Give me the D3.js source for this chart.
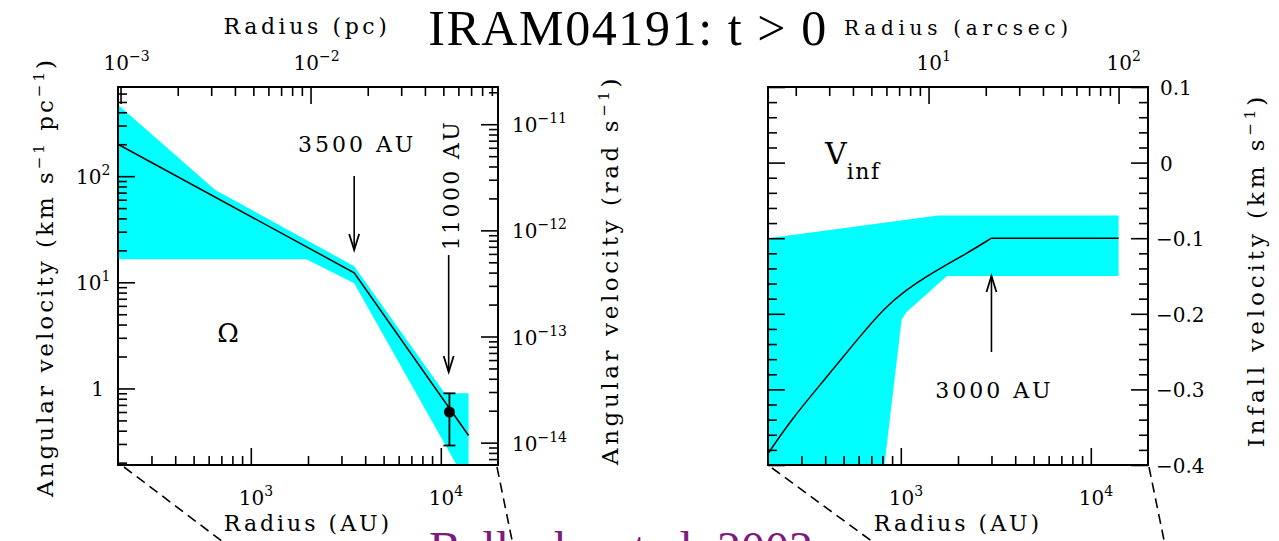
<!DOCTYPE html>
<html>
<head>
<meta charset="utf-8">
<script src="https://cdn.jsdelivr.net/npm/d3@7"></script>
<style>
body { margin: 0; background: #fff; }
svg text { font-family: "DejaVu Serif", serif; fill: #000; }
</style>
</head>
<body>
<script>
// values
var radiusDomain = [200, 20000];     // AU, both panels
var omegaDomain = [0.19, 692];       // km s-1 pc-1
var vinfDomain = [-0.4, 0.1];        // km s-1

// angular velocity model and its allowed range
var omegaModel = [[200, 200], [3500, 12.3], [14000, 0.36]];
var omegaBandUpper = [[200, 470], [650, 74], [3500, 14.2], [10500, 0.9], [14000, 0.9]];
var omegaBandLower = [[200, 16.5], [1960, 16.5], [3500, 9.8], [14000, 0.12]];

// measured point with error bar
var obsRadius = [11100];
var obsOmega = [0.6];
var obsLow = [0.29];
var obsHigh = [0.9];

// infall velocity model: curved inside 3000 AU, flat outside
var vinfCurve = [[200, -0.385], [265, -0.34], [394, -0.288], [585, -0.235], [828, -0.191],
  [1060, -0.169], [1358, -0.151], [1656, -0.138], [2227, -0.12], [3000, -0.1]];
var vinfFlat = [[3000, -0.1], [14000, -0.1]];
var vinfBandUpper = [[200, -0.1], [1570, -0.07], [14000, -0.07]];
var vinfBandLower = [[200, -0.4], [820, -0.4], [1010, -0.208], [1070, -0.198], [1750, -0.15], [14000, -0.15]];

// tick labels
var auMajor = [1000, 10000];
var auExp = ["3", "4"];
var pcMajor = [0.001, 0.01];
var pcExp = ["\u22123", "\u22122"];
var arcMajor = [10, 100];
var arcExp = ["1", "2"];
var omegaMajor = [1, 10, 100];
var omegaLabels = [["1", ""], ["10", "1"], ["10", "2"]];
var radMajor = [1e-14, 1e-13, 1e-12, 1e-11];
var radExp = ["\u221214", "\u221213", "\u221212", "\u221211"];
var vinfMajor = [-0.4, -0.3, -0.2, -0.1, 0, 0.1];
var vinfLabels = ["\u22120.4", "\u22120.3", "\u22120.2", "\u22120.1", "0", "0.1"];

// unit conversions
var auPerPc = 206265;
var distPc = 140;
var kmPcToRad = 3.0857e13;

var W = 1279, H = 541;
var pw = 380, ph = 378;
var leftX = 118, rightX = 768, topY = 87;

var svg = d3.select("body").append("svg")
    .attr("width", W)
    .attr("height", H);

// scales
var x = d3.scaleLog().domain(radiusDomain).range([0, pw]);
var xPc = d3.scaleLog().domain(radiusDomain.map(function(d) { return d / auPerPc; })).range([0, pw]);
var xArc = d3.scaleLog().domain(radiusDomain.map(function(d) { return d / distPc; })).range([0, pw]);
var yOmega = d3.scaleLog().domain(omegaDomain).range([ph, 0]);
var yRad = d3.scaleLog().domain(omegaDomain.map(function(d) { return d / kmPcToRad; })).range([ph, 0]);
var yVinf = d3.scaleLinear().domain(vinfDomain).range([ph, 0]);

// minor ticks 2..9 x 10^n inside a log scale domain
function logMinors(scale) {
  var d = scale.domain();
  var lo = Math.min(d[0], d[1]), hi = Math.max(d[0], d[1]);
  var out = [];
  for (var e = Math.floor(Math.log10(lo)); e <= Math.ceil(Math.log10(hi)); e++) {
    for (var k = 2; k <= 9; k++) {
      var v = k * Math.pow(10, e);
      if (v > lo * 1.0001 && v < hi * 0.9999) out.push(v);
    }
  }
  return out;
}

function drawTicks(g, axisFn, scale, values, size, tx, ty) {
  g.append("g")
    .attr("transform", "translate(" + tx + "," + ty + ")")
    .call(axisFn(scale).tickValues(values).tickSize(size).tickFormat(""))
    .call(function(s) { s.select(".domain").remove(); })
    .selectAll("line")
    .attr("stroke", "#000")
    .attr("stroke-width", 1.6);
}

// add "10" with a raised exponent
function powerLabel(sel, base, exp) {
  sel.append("tspan").text(base);
  if (exp) {
    sel.append("tspan")
      .attr("dy", -9)
      .attr("font-size", "14px")
      .text(exp);
  }
}

function arrowDown(g, px, y0, y1) {
  g.append("line").attr("x1", px).attr("x2", px).attr("y1", y0).attr("y2", y1)
    .attr("stroke", "#000").attr("stroke-width", 1.6);
  g.append("path")
    .attr("d", "M" + (px - 5) + "," + (y1 - 16) + " L" + px + "," + y1 + " L" + (px + 5) + "," + (y1 - 16))
    .attr("fill", "none").attr("stroke", "#000").attr("stroke-width", 1.8);
}

function arrowUp(g, px, y0, y1) {
  g.append("line").attr("x1", px).attr("x2", px).attr("y1", y0).attr("y2", y1)
    .attr("stroke", "#000").attr("stroke-width", 1.6);
  g.append("path")
    .attr("d", "M" + (px - 5) + "," + (y1 + 16) + " L" + px + "," + y1 + " L" + (px + 5) + "," + (y1 + 16))
    .attr("fill", "none").attr("stroke", "#000").attr("stroke-width", 1.8);
}

// rotated axis title with "s^-1" style exponents
function sideTitle(g, tx, ty, size, spacing, parts) {
  var t = g.append("text")
    .attr("transform", "translate(" + tx + "," + ty + ") rotate(-90)")
    .attr("text-anchor", "middle").attr("font-size", size + "px").attr("letter-spacing", spacing + "px");
  parts.forEach(function(p) {
    if (p.sup) {
      t.append("tspan").attr("dy", -9).attr("font-size", "15px").text(p.sup);
    } else {
      t.append("tspan").attr("dy", p.down ? 9 : 0).text(p.text);
    }
  });
}

var defs = svg.append("defs");
defs.append("clipPath").attr("id", "plotClip")
  .append("rect").attr("width", pw).attr("height", ph);

// ---------------- left panel: angular velocity ----------------
var gL = svg.append("g").attr("transform", "translate(" + leftX + "," + topY + ")");

var omegaLine = d3.line()
  .x(function(d) { return x(d[0]); })
  .y(function(d) { return yOmega(d[1]); });

gL.append("path")
  .attr("clip-path", "url(#plotClip)")
  .attr("d", omegaLine(omegaBandUpper.concat(omegaBandLower.slice().reverse())) + "Z")
  .attr("fill", "#00ffff");

gL.append("path")
  .attr("d", omegaLine(omegaModel))
  .attr("fill", "none")
  .attr("stroke", "#000")
  .attr("stroke-width", 1.5);

// error bar and point
obsRadius.forEach(function(r, i) {
  var px = x(r);
  gL.append("line").attr("x1", px).attr("x2", px)
    .attr("y1", yOmega(obsLow[i])).attr("y2", yOmega(obsHigh[i]))
    .attr("stroke", "#000").attr("stroke-width", 1.8);
  [obsLow[i], obsHigh[i]].forEach(function(v) {
    gL.append("line").attr("x1", px - 6).attr("x2", px + 6)
      .attr("y1", yOmega(v)).attr("y2", yOmega(v))
      .attr("stroke", "#000").attr("stroke-width", 1.8);
  });
  gL.append("circle").attr("cx", px).attr("cy", yOmega(obsOmega[i])).attr("r", 5.5).attr("fill", "#000");
});

// ticks
drawTicks(gL, d3.axisTop, x, logMinors(x), 9, 0, ph);
drawTicks(gL, d3.axisTop, x, auMajor, 17, 0, ph);
drawTicks(gL, d3.axisBottom, xPc, logMinors(xPc), 9, 0, 0);
drawTicks(gL, d3.axisBottom, xPc, pcMajor, 17, 0, 0);
drawTicks(gL, d3.axisRight, yOmega, logMinors(yOmega), 9, 0, 0);
drawTicks(gL, d3.axisRight, yOmega, omegaMajor, 17, 0, 0);
drawTicks(gL, d3.axisLeft, yRad, logMinors(yRad), 9, pw, 0);
drawTicks(gL, d3.axisLeft, yRad, radMajor, 17, pw, 0);

gL.append("rect").attr("width", pw).attr("height", ph)
  .attr("fill", "none").attr("stroke", "#000").attr("stroke-width", 2);

// annotations
arrowDown(gL, x(3500), 89, 163);
gL.append("text").attr("x", x(3500) + 3).attr("y", 65)
  .attr("text-anchor", "middle").attr("font-size", "22px").attr("letter-spacing", "3px")
  .text("3500 AU");
arrowDown(gL, x(11000), 168, 285);
gL.append("text")
  .attr("transform", "translate(" + (x(11000) + 10) + ",98) rotate(-90)")
  .attr("text-anchor", "middle").attr("font-size", "22px").attr("letter-spacing", "2.4px")
  .text("11000 AU");
gL.append("text").attr("x", 110).attr("y", 255)
  .attr("text-anchor", "middle").attr("font-size", "26px")
  .text("\u03A9");

// tick labels
auMajor.forEach(function(v, i) {
  powerLabel(gL.append("text").attr("x", x(v) - 12).attr("y", ph + 40).attr("font-size", "20px"), "10", auExp[i]);
});
pcMajor.forEach(function(v, i) {
  powerLabel(gL.append("text").attr("x", xPc(v) - 17).attr("y", -17).attr("font-size", "20px"), "10", pcExp[i]);
});
omegaMajor.forEach(function(v, i) {
  powerLabel(gL.append("text").attr("x", -30).attr("y", yOmega(v) + 8).attr("font-size", "20px")
    .attr("text-anchor", omegaLabels[i][1] ? "start" : "end")
    .attr("dx", omegaLabels[i][1] ? -12 : 16), omegaLabels[i][0], omegaLabels[i][1]);
});
radMajor.forEach(function(v, i) {
  powerLabel(gL.append("text").attr("x", pw + 14).attr("y", yRad(v) + 8).attr("font-size", "20px"), "10", radExp[i]);
});

// axis titles
gL.append("text").attr("x", pw / 2).attr("y", ph + 66)
  .attr("text-anchor", "middle").attr("font-size", "22px").attr("letter-spacing", "3px")
  .text("Radius (AU)");
gL.append("text").attr("x", pw / 2 - 1).attr("y", -53)
  .attr("text-anchor", "middle").attr("font-size", "22px").attr("letter-spacing", "3.6px")
  .text("Radius (pc)");

sideTitle(gL, -65, 190, 23, 3.0, [
  {text: "Angular velocity (km s"}, {sup: "\u22121"}, {text: " pc", down: true}, {sup: "\u22121"}, {text: ")", down: true}
]);
sideTitle(gL, pw + 120, 183, 23, 3.6, [
  {text: "Angular velocity (rad s"}, {sup: "\u22121"}, {text: ")", down: true}
]);

// ---------------- right panel: infall velocity ----------------
var gR = svg.append("g").attr("transform", "translate(" + rightX + "," + topY + ")");

var vinfLine = d3.line()
  .x(function(d) { return x(d[0]); })
  .y(function(d) { return yVinf(d[1]); });

gR.append("path")
  .attr("clip-path", "url(#plotClip)")
  .attr("d", vinfLine(vinfBandUpper.concat(vinfBandLower.slice().reverse())) + "Z")
  .attr("fill", "#00ffff");

gR.append("path")
  .attr("d", vinfLine(vinfFlat))
  .attr("fill", "none")
  .attr("stroke", "#000")
  .attr("stroke-width", 1.5);

gR.append("path")
  .attr("d", d3.line()
    .x(function(d) { return x(d[0]); })
    .y(function(d) { return yVinf(d[1]); })
    .curve(d3.curveBasis)(vinfCurve))
  .attr("fill", "none")
  .attr("stroke", "#000")
  .attr("stroke-width", 1.5);

var vMinor = yVinf.ticks(25).filter(function(v) {
  return vinfMajor.every(function(m) { return Math.abs(m - v) > 1e-6; });
});

drawTicks(gR, d3.axisTop, x, logMinors(x), 9, 0, ph);
drawTicks(gR, d3.axisTop, x, auMajor, 17, 0, ph);
drawTicks(gR, d3.axisBottom, xArc, logMinors(xArc), 9, 0, 0);
drawTicks(gR, d3.axisBottom, xArc, arcMajor, 17, 0, 0);
drawTicks(gR, d3.axisRight, yVinf, vMinor, 9, 0, 0);
drawTicks(gR, d3.axisRight, yVinf, vinfMajor, 17, 0, 0);
drawTicks(gR, d3.axisLeft, yVinf, vMinor, 9, pw, 0);
drawTicks(gR, d3.axisLeft, yVinf, vinfMajor, 17, pw, 0);

gR.append("rect").attr("width", pw).attr("height", ph)
  .attr("fill", "none").attr("stroke", "#000").attr("stroke-width", 2);

arrowUp(gR, x(3000), 265, 189);
gR.append("text").attr("x", x(3000) + 3).attr("y", 311)
  .attr("text-anchor", "middle").attr("font-size", "22px").attr("letter-spacing", "3px")
  .text("3000 AU");

var vt = gR.append("text").attr("x", 57).attr("y", 77).attr("font-size", "30px");
vt.append("tspan").text("V");
vt.append("tspan").attr("dy", 15).attr("font-size", "22px").attr("letter-spacing", "1.5px").text("inf");

auMajor.forEach(function(v, i) {
  powerLabel(gR.append("text").attr("x", x(v) - 12).attr("y", ph + 40).attr("font-size", "20px"), "10", auExp[i]);
});
arcMajor.forEach(function(v, i) {
  powerLabel(gR.append("text").attr("x", xArc(v) - 12).attr("y", -17).attr("font-size", "20px"), "10", arcExp[i]);
});
vinfMajor.forEach(function(v, i) {
  gR.append("text").attr("x", pw + (v < 0 ? 8 : 12)).attr("y", yVinf(v) + 8).attr("font-size", "20px")
    .text(vinfLabels[i]);
});

gR.append("text").attr("x", pw / 2).attr("y", ph + 66)
  .attr("text-anchor", "middle").attr("font-size", "22px").attr("letter-spacing", "3px")
  .text("Radius (AU)");
gR.append("text").attr("x", 188).attr("y", -52)
  .attr("text-anchor", "middle").attr("font-size", "20px")
  .attr("textLength", 224).attr("lengthAdjust", "spacing")
  .text("Radius (arcsec)");

sideTitle(gR, pw + 116, 183, 23, 3.9, [
  {text: "Infall velocity (km s"}, {sup: "\u22121"}, {text: ")", down: true}
]);

// dashed zoom lines below the panels
var dashes = [
  [leftX + 6, 467, leftX + 109, 545],
  [leftX + pw - 1, 467, leftX + pw + 15, 545],
  [rightX + 4, 468, rightX + 109, 545],
  [rightX + pw + 1, 467, rightX + pw + 17, 545]
];
dashes.forEach(function(d) {
  svg.append("line").attr("x1", d[0]).attr("y1", d[1]).attr("x2", d[2]).attr("y2", d[3])
    .attr("stroke", "#000").attr("stroke-width", 1.6).attr("stroke-dasharray", "10,6");
});

// title and credit
svg.append("text").attr("x", 628).attr("y", 45)
  .attr("text-anchor", "middle")
  .style("font-family", "'Liberation Serif', 'Times New Roman', serif")
  .attr("font-size", "50px")
  .attr("letter-spacing", "1.6px")
  .text("IRAM04191: t > 0");
svg.append("text").attr("x", 621).attr("y", 565)
  .attr("text-anchor", "middle")
  .style("font-family", "'Liberation Serif', 'Times New Roman', serif")
  .style("fill", "#7f1a7f")
  .attr("font-size", "48px")
  .text("Belloche et al. 2002");
</script>
</body>
</html>
